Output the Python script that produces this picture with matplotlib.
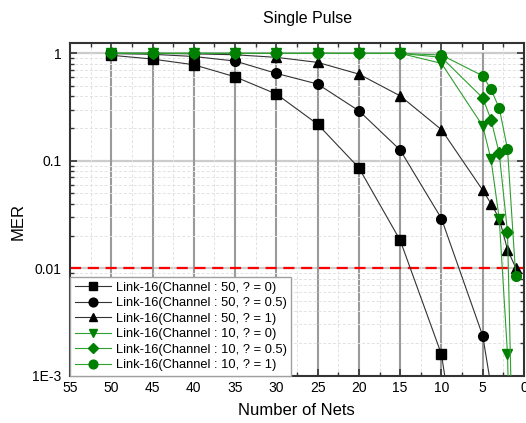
import matplotlib
matplotlib.use("Agg")
import matplotlib.pyplot as plt
from matplotlib.ticker import FixedLocator, LogLocator, NullFormatter, MultipleLocator
import numpy as np

plt.rcParams['font.family'] = ['Liberation Sans', 'DejaVu Sans']

x_tail = [50, 45, 40, 35, 30, 25, 20, 15, 10, 5, 4, 3, 2, 1]

sq_x = [50, 45, 40, 35, 30, 25, 20, 15, 10, 5]
sq_y = [0.96, 0.885, 0.783, 0.605, 0.418, 0.219, 0.086, 0.0182, 0.00158, 5e-6]

ci_x = [50, 45, 40, 35, 30, 25, 20, 15, 10, 5, 4]
ci_y = [0.995, 0.98, 0.935, 0.848, 0.651, 0.518, 0.292, 0.126, 0.029, 0.00235, 0.0008]

tr_x = x_tail
tr_y = [1.0, 1.0, 0.99, 0.97, 0.918, 0.824, 0.641, 0.402, 0.195, 0.0532, 0.040, 0.029, 0.0149, 0.0101]

gd_x = x_tail
gd_y = [1, 1, 1, 1, 1, 1, 1, 1, 0.807, 0.211, 0.103, 0.029, 0.0016, 1e-6]

gm_x = x_tail
gm_y = [1, 1, 1, 1, 1, 1, 1, 1, 0.918, 0.385, 0.242, 0.117, 0.0217, 1e-5]

gc_x = x_tail
gc_y = [1, 1, 1, 1, 1, 1, 1, 1, 0.964, 0.618, 0.462, 0.309, 0.129, 0.0084]

labels = ["Link-16(Channel : 50, ? = 0)",
          "Link-16(Channel : 50, ? = 0.5)",
          "Link-16(Channel : 50, ? = 1)",
          "Link-16(Channel : 10, ? = 0)",
          "Link-16(Channel : 10, ? = 0.5)",
          "Link-16(Channel : 10, ? = 1)"]

xticks = [55, 50, 45, 40, 35, 30, 25, 20, 15, 10, 5, 0]
yticks = [1, 0.1, 0.01, 0.001]
ytick_labels = ["1", "0.1", "0.01", "1E-3"]
threshold = 0.01
drop_x = [50, 45, 40, 35, 30, 25, 20, 15, 10, 5]

fig = plt.figure(figsize=(5.26, 4.23), dpi=100)
ax = fig.add_axes([0.1331, 0.1118, 0.8631, 0.7858])

ax.set_yscale('log')
ax.set_xlim(55, 0)
ax.set_ylim(0.001, 1.24)

# grids
ax.yaxis.set_minor_locator(LogLocator(base=10, subs=np.arange(2, 10)))
ax.yaxis.set_minor_formatter(NullFormatter())
ax.xaxis.set_minor_locator(MultipleLocator(2.5))
ax.grid(which='minor', color='#e2e2e2', linestyle=(0, (3, 2)), linewidth=0.7)
for yv in yticks[:-1]:
    ax.axhline(yv, color='#cccccc', linewidth=1.6, zorder=1)
ax.vlines(drop_x, 0.001, 1.0, colors='#9a9a9a', linewidth=1.5, zorder=1.5)
ax.axhline(threshold, color='#ff0000', linestyle=(0, (5, 3)), linewidth=1.6, zorder=2)

kw = dict(linewidth=0.8, markersize=7, zorder=3)
green = '#008000'
lgreen = '#2f9f2f'
ax.plot(sq_x, sq_y, color='#333333', marker='s', mfc='black', mec='black', label=labels[0], **kw)
ax.plot(ci_x, ci_y, color='#333333', marker='o', mfc='black', mec='black', label=labels[1], **kw)
ax.plot(tr_x, tr_y, color='#333333', marker='^', mfc='black', mec='black', label=labels[2], **kw)
ax.plot(gd_x, gd_y, color=lgreen, marker='v', mfc=green, mec=green, label=labels[3], **kw)
ax.plot(gm_x, gm_y, color=lgreen, marker='D', mfc=green, mec=green, label=labels[4],
        linewidth=0.8, markersize=6, zorder=3)
ax.plot(gc_x, gc_y, color=lgreen, marker='o', mfc=green, mec=green, label=labels[5], **kw)

ax.set_xticks(xticks)
ax.set_xticklabels([str(v) for v in xticks])
ax.yaxis.set_major_locator(FixedLocator(yticks))
ax.set_yticklabels(ytick_labels)

ax.tick_params(which='both', direction='in', top=True, right=True, color='#333333')
ax.tick_params(which='major', length=5, width=1.2, labelsize=10, pad=4)
ax.tick_params(axis='y', which='major', pad=6)
ax.tick_params(which='minor', length=3, width=1.0)
for s in ax.spines.values():
    s.set_color('#333333')
    s.set_linewidth(1.5)

ax.set_xlabel("Number of Nets", fontsize=12, va='center')
ax.xaxis.set_label_coords(0.499, -0.105)
ax.set_ylabel("MER", fontsize=12, va='center')
ax.yaxis.set_label_coords(-0.115, 0.463)
fig.text(0.585, 0.957, "Single Pulse", ha='center', va='center', fontsize=11.5)

leg = ax.legend(loc='lower left', bbox_to_anchor=(0.0, 0.0), fontsize=9.3, frameon=True,
                fancybox=False, edgecolor='#a0a0a0', framealpha=1, borderaxespad=0,
                handlelength=2.8, handletextpad=0.4, labelspacing=0.27, borderpad=0.35,
                markerscale=0.9)
leg.get_frame().set_linewidth(1.0)
leg.set_zorder(5)

fig.savefig("out.png", dpi=100)
